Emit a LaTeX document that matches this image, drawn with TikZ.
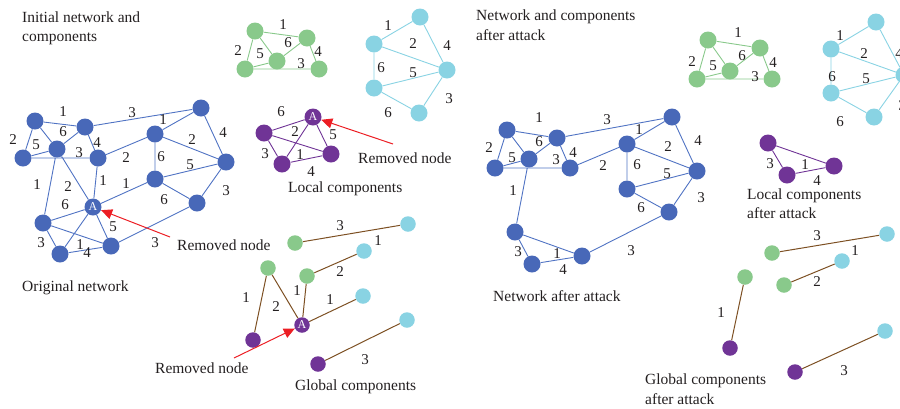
\documentclass[tikz,border=0pt]{standalone}
\usepackage{fontspec}
\setmainfont{Liberation Serif}
\usetikzlibrary{arrows.meta}
\definecolor{nblue}{RGB}{72,104,184}
\definecolor{eblue}{RGB}{80,115,195}
\definecolor{ngreen}{RGB}{137,201,139}
\definecolor{ncyan}{RGB}{137,211,227}
\definecolor{npurple}{RGB}{112,52,150}
\definecolor{ebrown}{RGB}{125,80,35}
\definecolor{ared}{RGB}{236,30,36}
\definecolor{txt}{RGB}{35,31,32}
\newcounter{lbc}
\newcommand\lab[2]{\stepcounter{lbc}\node[lbl] (lab\arabic{lbc}) at (#1) {#2};}
\tikzset{
  nd/.style={circle,inner sep=0pt,minimum size=17pt},
  bn/.style={nd,fill=nblue},
  gn/.style={nd,fill=ngreen},
  cn/.style={nd,fill=ncyan},
  pn/.style={nd,fill=npurple},
  gsn/.style={circle,inner sep=0pt,minimum size=15.5pt},
  gg/.style={gsn,fill=ngreen},
  gc/.style={gsn,fill=ncyan},
  gp/.style={gsn,fill=npurple},
  an/.style={text=white,font=\fontsize{12}{12}\selectfont},
  eb/.style={draw=eblue,line width=0.9pt},
  eg/.style={draw=ngreen,line width=0.9pt},
  ec/.style={draw=ncyan,line width=0.9pt},
  ep/.style={draw=npurple,line width=0.9pt},
  ebr/.style={draw=ebrown,line width=1pt},
  lbl/.style={text=txt,inner sep=0pt,font=\fontsize{15}{15}\selectfont},
  ttl/.style={text=txt,inner sep=0pt,anchor=west,align=left,font=\fontsize{15.5}{19.5}\selectfont},
  redarr/.style={draw=ared,line width=1pt,-{Triangle[length=11pt,width=10pt]}}
}
\begin{document}
\begin{tikzpicture}[x=1pt,y=-1pt]
\useasboundingbox (0,0) rectangle (900,408);
% ---------- titles ----------
\node[ttl] (t1) at (22,28.5) {Initial network and\\components};
\node[ttl] (t2) at (476,25) {Network and components\\after attack};
\node[ttl] (t3) at (22,288) {Original network};
\node[ttl] (t4) at (493,296) {Network after attack};
\node[ttl] (t5) at (288,189) {Local components};
\node[ttl] (t6) at (295,387) {Global components};
\node[ttl] (t7) at (747,203.5) {Local components\\after attack};
\node[ttl] (t8) at (645,389) {Global components\\after attack};
\node[ttl] (r1) at (358,158) {Removed node};
\node[ttl] (r2) at (177,245) {Removed node};
\node[ttl] (r3) at (155,368) {Removed node};
% ---------- original network ----------
\node[bn] (n1) at (35,121) {};
\node[bn] (n2) at (85,127) {};
\node[bn] (n3) at (23,158) {};
\node[bn] (n4) at (57,149) {};
\node[bn] (n5) at (98,158) {};
\node[bn] (n6) at (201,108) {};
\node[bn] (n7) at (155,134) {};
\node[bn] (n8) at (226,162) {};
\node[bn] (n9) at (155,179) {};
\node[bn] (n10) at (197,203) {};
\node[bn] (nA) at (93,207) {};
\node[bn] (n11) at (43,223) {};
\node[bn] (n12) at (60,254) {};
\node[bn] (n13) at (111,246) {};
\path[eb] (n1)--(n2) (n1)--(n3) (n1)--(n4) (n3)--(n4) (n4)--(n2) (n2)--(n5)
 (n3)--(n5) (n2)--(n6) (n5)--(n7) (n6)--(n7) (n6)--(n8) (n7)--(n8) (n7)--(n9)
 (n9)--(n8) (n9)--(n10) (n8)--(n10) (n10)--(n13) (nA)--(n9) (n4)--(nA) (n4)--(n11)
 (n11)--(nA) (n11)--(n12) (n11)--(n13) (n12)--(n13) (nA)--(n13) (nA)--(n12) (n5)--(nA);
\node[an] (nAt) at (nA) {A};
\lab{63,112}{1}\lab{13,140}{2}\lab{36,145}{5}\lab{63,132}{6}\lab{79,153}{3}
\lab{97,143}{4}\lab{132,113}{3}\lab{163,120}{1}\lab{223,133}{4}\lab{192,140}{2}
\lab{126,158}{2}\lab{161,157}{6}\lab{190,165}{5}\lab{164,200}{6}\lab{226,191}{3}
\lab{155,243}{3}\lab{126,184}{1}\lab{103,181}{1}\lab{68,187}{2}\lab{37,185}{1}
\lab{65,205}{6}\lab{41,243}{3}\lab{80,245}{1}\lab{87,253}{4}\lab{113,227}{5}
\coordinate (ra1) at (170,237);
\draw[redarr] (ra1) -- (nA);
% ---------- green ----------
\node[gn] (g1) at (255,31) {};
\node[gn] (g2) at (307,38) {};
\node[gn] (g3) at (245,69) {};
\node[gn] (g4) at (277,61) {};
\node[gn] (g5) at (319,69) {};
\path[eg] (g1)--(g2) (g1)--(g3) (g1)--(g4) (g3)--(g4) (g4)--(g2) (g2)--(g5) (g3)--(g5);
\lab{283,25}{1}\lab{238,51}{2}\lab{260,54}{5}\lab{288,43}{6}\lab{318,52}{4}\lab{301,64}{3}
% ---------- cyan ----------
\node[cn] (c1) at (420,17) {};
\node[cn] (c2) at (374,44) {};
\node[cn] (c3) at (447,70) {};
\node[cn] (c4) at (374,88) {};
\node[cn] (c5) at (419,113) {};
\path[ec] (c1)--(c2) (c2)--(c3) (c1)--(c3) (c2)--(c4) (c4)--(c3) (c4)--(c5) (c5)--(c3);
\lab{388,26}{1}\lab{413,44}{2}\lab{447,46}{4}\lab{381,68}{6}\lab{413,73}{5}\lab{388,113}{6}\lab{449,99}{3}
% ---------- purple local ----------
\node[pn] (pA) at (313,117) {};
\node[pn] (p1) at (264,133) {};
\node[pn] (p2) at (331,154) {};
\node[pn] (p3) at (282,164) {};
\path[ep] (p1)--(pA) (p1)--(p2) (pA)--(p2) (p3)--(pA) (p1)--(p3) (p3)--(p2);
\node[an] (pAt) at (pA) {A};
\lab{281,112}{6}\lab{295,132}{2}\lab{333,135}{5}\lab{300,155}{1}\lab{265,154}{3}\lab{311,172}{4}
\coordinate (ra2) at (393,144);
\draw[redarr] (ra2) -- (pA);
% ---------- global ----------
\node[gg] (gg1) at (295,243) {};
\node[gc] (cc1) at (408,224) {};
\node[gc] (cc2) at (364,251) {};
\node[gg] (gg2) at (268,268) {};
\node[gg] (gg3) at (307,276) {};
\node[gc] (cc3) at (363,296) {};
\node[gp] (gA) at (302,325) {};
\node[gp] (pg1) at (253,340) {};
\node[gc] (cc4) at (407,320) {};
\node[gp] (pg2) at (318,364) {};
\path[ebr] (gg1)--(cc1) (gg3)--(cc2) (gg2)--(pg1) (gg2)--(gA) (gg3)--(gA) (gA)--(cc3) (pg2)--(cc4);
\node[an] (gAt) at (gA) {A};
\lab{340,226}{3}\lab{340,272}{2}\lab{378,241}{1}\lab{246,298}{1}\lab{276,307}{2}
\lab{297,291}{1}\lab{330,300}{1}\lab{365,360}{3}
\coordinate (ra3) at (234,358);
\draw[redarr] (ra3) -- (gA);
% ---------- network after attack ----------
\node[bn] (m1) at (507,130) {};
\node[bn] (m2) at (557,138) {};
\node[bn] (m3) at (495,168) {};
\node[bn] (m4) at (529,159) {};
\node[bn] (m5) at (570,168) {};
\node[bn] (m6) at (672,117) {};
\node[bn] (m7) at (627,144) {};
\node[bn] (m8) at (697,171) {};
\node[bn] (m9) at (627,189) {};
\node[bn] (m10) at (669,212) {};
\node[bn] (m11) at (515,232) {};
\node[bn] (m12) at (532,264) {};
\node[bn] (m13) at (582,256) {};
\path[eb] (m1)--(m2) (m1)--(m3) (m1)--(m4) (m3)--(m4) (m4)--(m2) (m2)--(m5)
 (m3)--(m5) (m2)--(m6) (m5)--(m7) (m6)--(m7) (m6)--(m8) (m7)--(m8) (m7)--(m9)
 (m9)--(m8) (m9)--(m10) (m8)--(m10) (m4)--(m11) (m11)--(m12) (m11)--(m13)
 (m12)--(m13) (m13)--(m10);
\lab{539,118}{1}\lab{489,148}{2}\lab{512,158}{5}\lab{539,142}{6}\lab{556,160}{3}
\lab{573,153}{4}\lab{607,120}{3}\lab{639,130}{1}\lab{603,166}{2}\lab{637,165}{6}
\lab{668,147}{2}\lab{698,141}{4}\lab{667,174}{5}\lab{701,198}{3}\lab{641,208}{6}
\lab{513,191}{1}\lab{631,251}{3}\lab{518,252}{3}\lab{557,254}{1}\lab{563,270}{4}
% ---------- green after ----------
\node[gn] (h1) at (708,40) {};
\node[gn] (h2) at (760,48) {};
\node[gn] (h3) at (697,79) {};
\node[gn] (h4) at (730,71) {};
\node[gn] (h5) at (772,79) {};
\path[eg] (h1)--(h2) (h1)--(h3) (h1)--(h4) (h3)--(h4) (h4)--(h2) (h2)--(h5) (h3)--(h5);
\lab{738,33}{1}\lab{692,62}{2}\lab{713,66}{5}\lab{742,56}{6}\lab{773,63}{4}\lab{755,77}{3}
% ---------- cyan after ----------
\node[cn] (k1) at (876,22) {};
\node[cn] (k2) at (831,49) {};
\node[cn] (k3) at (904,75) {};
\node[cn] (k4) at (831,93) {};
\node[cn] (k5) at (874,117) {};
\path[ec] (k1)--(k2) (k2)--(k3) (k1)--(k3) (k2)--(k4) (k4)--(k3) (k4)--(k5) (k5)--(k3);
\lab{840,36}{1}\lab{864,54}{2}\lab{899,54}{4}\lab{832,77}{6}\lab{866,79}{5}\lab{840,122}{6}\lab{902,106}{3}
% ---------- purple local after ----------
\node[pn] (q1) at (768,143) {};
\node[pn] (q2) at (834,166) {};
\node[pn] (q3) at (787,175) {};
\path[ep] (q1)--(q2) (q1)--(q3) (q3)--(q2);
\lab{770,164}{3}\lab{805,165}{1}\lab{817,181}{4}
% ---------- global after ----------
\node[gg] (G1) at (772,253) {};
\node[gc] (K1) at (887,234) {};
\node[gc] (K2) at (842,261) {};
\node[gg] (G2) at (745,277) {};
\node[gg] (G3) at (784,285) {};
\node[gp] (P1) at (730,348) {};
\node[gc] (K3) at (885,331) {};
\node[gp] (P2) at (795,372) {};
\path[ebr] (G1)--(K1) (G3)--(K2) (G2)--(P1) (P2)--(K3);
\lab{817,236}{3}\lab{817,282}{2}\lab{855,251}{1}\lab{721,313}{1}\lab{844,371}{3}
\end{tikzpicture}
\end{document}
